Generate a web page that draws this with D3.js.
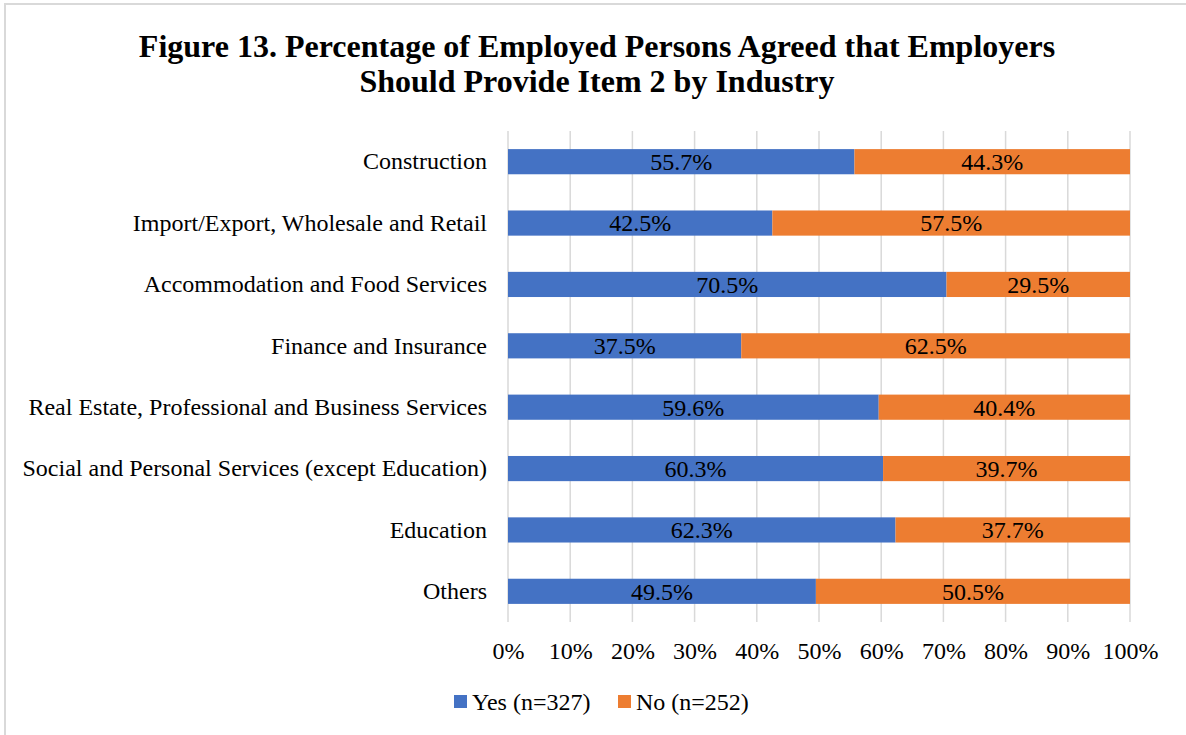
<!DOCTYPE html>
<html>
<head>
<meta charset="utf-8">
<script src="https://cdn.jsdelivr.net/npm/d3@7"></script>
<style>
  html, body { margin: 0; padding: 0; background: #fff; }
  svg { display: block; }
  text { font-family: "Liberation Serif", "Times New Roman", serif; fill: #000; }
</style>
</head>
<body>
<svg id="chart" width="1186" height="735"></svg>
<script>
// Industries, top to bottom
const industries = [
  "Construction",
  "Import/Export, Wholesale and Retail",
  "Accommodation and Food Services",
  "Finance and Insurance",
  "Real Estate, Professional and Business Services",
  "Social and Personal Services (except Education)",
  "Education",
  "Others"
];
// Share answering Yes / No (%)
const yesValues = [55.7, 42.5, 70.5, 37.5, 59.6, 60.3, 62.3, 49.5];
const noValues  = [44.3, 57.5, 29.5, 62.5, 40.4, 39.7, 37.7, 50.5];
const seriesNames = ["Yes (n=327)", "No (n=252)"];
const seriesColors = ["#4472C4", "#ED7D31"];
const tickValues = [0, 10, 20, 30, 40, 50, 60, 70, 80, 90, 100];
const titleLines = [
  "Figure 13. Percentage of Employed Persons Agreed that Employers",
  "Should Provide Item 2 by Industry"
];

const svg = d3.select("#chart");
const W = 1186, H = 735;
const margin = { left: 508, right: 56, top: 131, bottom: 113 };
const fontSize = 24;

// Chart-area frame (light grey edge on top and left)
svg.append("path")
  .attr("d", `M5,${H} L5,4 L${W},4`)
  .attr("fill", "none")
  .attr("stroke", "#d9d9d9")
  .attr("stroke-width", 2);

// Title
svg.append("text")
  .attr("x", 597)
  .attr("y", 57)
  .attr("text-anchor", "middle")
  .style("font-weight", "bold")
  .style("font-size", "32px")
  .selectAll("tspan")
  .data(titleLines)
  .join("tspan")
  .attr("x", 597)
  .attr("dy", (d, i) => i === 0 ? 0 : 35)
  .text(d => d);

const x = d3.scaleLinear()
  .domain([0, 100])
  .range([margin.left, W - margin.right]);

const y = d3.scaleBand()
  .domain(industries)
  .range([margin.top, H - margin.bottom])
  .paddingInner(0.59)
  .paddingOuter(0.295);

// Vertical gridlines
svg.append("g")
  .selectAll("line")
  .data(tickValues)
  .join("line")
  .attr("x1", d => x(d))
  .attr("x2", d => x(d))
  .attr("y1", margin.top)
  .attr("y2", H - margin.bottom)
  .attr("stroke", "#d9d9d9")
  .attr("stroke-width", 1.5);

// X axis tick labels
const xAxis = d3.axisBottom(x)
  .tickValues(tickValues)
  .tickFormat(d => d + "%")
  .tickSize(0)
  .tickPadding(20);
const gx = svg.append("g")
  .attr("transform", `translate(0,${H - margin.bottom})`)
  .call(xAxis);
gx.select(".domain").remove();
gx.selectAll("text")
  .style("font-size", fontSize + "px")
  .style("font-family", '"Liberation Serif", "Times New Roman", serif')
  .attr("fill", "#000");

// Category labels
const yAxis = d3.axisLeft(y).tickSize(0).tickPadding(21);
const gy = svg.append("g")
  .attr("transform", `translate(${margin.left},0)`)
  .call(yAxis);
gy.select(".domain").remove();
gy.selectAll("text")
  .style("font-size", fontSize + "px")
  .style("font-family", '"Liberation Serif", "Times New Roman", serif')
  .attr("fill", "#000");

// Stacked segments
const rows = industries.map((name, i) => ({ name, Yes: yesValues[i], No: noValues[i] }));
const stack = d3.stack().keys(["Yes", "No"]);
const layers = stack(rows);

const layerG = svg.append("g")
  .selectAll("g")
  .data(layers)
  .join("g")
  .attr("fill", (d, i) => seriesColors[i]);

layerG.selectAll("rect")
  .data(d => d)
  .join("rect")
  .attr("x", d => x(d[0]))
  .attr("y", d => y(d.data.name))
  .attr("width", d => x(d[1]) - x(d[0]))
  .attr("height", y.bandwidth());

// Value labels centred in each segment
layerG.selectAll("text")
  .data(d => d.map(p => ({ p, key: d.key })))
  .join("text")
  .attr("x", d => (x(d.p[0]) + x(d.p[1])) / 2)
  .attr("y", d => y(d.p.data.name) + y.bandwidth() / 2)
  .attr("dy", "0.35em")
  .attr("text-anchor", "middle")
  .style("font-size", fontSize + "px")
  .attr("fill", "#000")
  .text(d => d.p.data[d.key].toFixed(1) + "%");

// Legend
const legendItems = [
  { label: seriesNames[0], color: seriesColors[0], x: 454 },
  { label: seriesNames[1], color: seriesColors[1], x: 618 }
];
const lg = svg.append("g")
  .selectAll("g")
  .data(legendItems)
  .join("g")
  .attr("transform", d => `translate(${d.x},695)`);
lg.append("rect")
  .attr("width", 13)
  .attr("height", 13)
  .attr("fill", d => d.color);
lg.append("text")
  .attr("x", 18)
  .attr("y", 6.5)
  .attr("dy", "0.35em")
  .style("font-size", fontSize + "px")
  .text(d => d.label);
</script>
</body>
</html>
